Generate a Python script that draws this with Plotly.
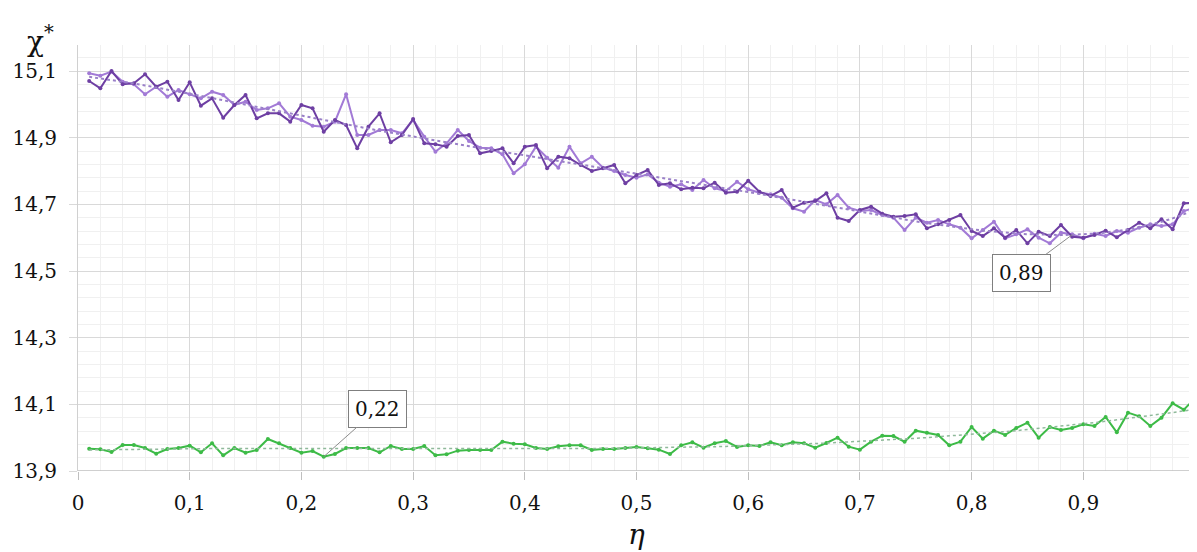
import numpy as np
import plotly.graph_objects as go

# eta values 0.01 ... 1.00
eta = [round(i / 100, 2) for i in range(1, 101)]

purple_dark = [
    15.070, 15.048, 15.100, 15.060, 15.063, 15.090, 15.053, 15.068, 15.013, 15.066,
    14.996, 15.018, 14.960, 14.998, 15.028, 14.958, 14.973, 14.973, 14.948, 14.998,
    14.988, 14.918, 14.953, 14.938, 14.868, 14.933, 14.973, 14.886, 14.908, 14.956,
    14.883, 14.880, 14.873, 14.905, 14.908, 14.853, 14.860, 14.868, 14.823, 14.873,
    14.878, 14.808, 14.843, 14.838, 14.818, 14.800, 14.808, 14.818, 14.763, 14.788,
    14.803, 14.758, 14.763, 14.745, 14.750, 14.748, 14.765, 14.735, 14.738, 14.771,
    14.738, 14.725, 14.743, 14.690, 14.705, 14.710, 14.733, 14.660, 14.650, 14.683,
    14.693, 14.672, 14.663, 14.665, 14.670, 14.628, 14.640, 14.653, 14.668, 14.620,
    14.605, 14.628, 14.600, 14.623, 14.583, 14.618, 14.605, 14.638, 14.603, 14.600,
    14.608, 14.621, 14.601, 14.623, 14.645, 14.628, 14.655, 14.625, 14.703, 14.705,
]

purple_light = [
    15.093, 15.086, 15.098, 15.068, 15.060, 15.030, 15.053, 15.023, 15.043, 15.030,
    15.018, 15.038, 15.028, 14.998, 15.008, 14.983, 14.988, 15.003, 14.963, 14.953,
    14.936, 14.933, 14.948, 15.030, 14.908, 14.908, 14.923, 14.923, 14.913, 14.953,
    14.903, 14.858, 14.883, 14.923, 14.890, 14.870, 14.868, 14.850, 14.793, 14.820,
    14.873, 14.840, 14.810, 14.873, 14.823, 14.843, 14.810, 14.800, 14.788, 14.780,
    14.790, 14.765, 14.753, 14.760, 14.743, 14.773, 14.748, 14.740, 14.768, 14.745,
    14.735, 14.730, 14.720, 14.688, 14.678, 14.713, 14.700, 14.728, 14.690, 14.680,
    14.683, 14.668, 14.660, 14.623, 14.660, 14.645, 14.653, 14.640, 14.630, 14.598,
    14.623, 14.648, 14.598, 14.610, 14.625, 14.600, 14.583, 14.615, 14.610, 14.598,
    14.612, 14.605, 14.620, 14.615, 14.630, 14.640, 14.635, 14.640, 14.680, 14.690,
]

green = [
    13.967, 13.965, 13.957, 13.978, 13.978, 13.969, 13.952, 13.966, 13.969, 13.976,
    13.956, 13.983, 13.947, 13.969, 13.955, 13.963, 13.996, 13.983, 13.969, 13.955,
    13.960, 13.943, 13.951, 13.969, 13.969, 13.969, 13.956, 13.975, 13.966, 13.966,
    13.975, 13.947, 13.950, 13.961, 13.963, 13.963, 13.963, 13.988, 13.982, 13.980,
    13.969, 13.966, 13.974, 13.977, 13.977, 13.963, 13.966, 13.966, 13.969, 13.972,
    13.968, 13.964, 13.951, 13.977, 13.986, 13.970, 13.983, 13.990, 13.972, 13.977,
    13.975, 13.986, 13.977, 13.986, 13.983, 13.970, 13.984, 14.000, 13.973, 13.964,
    13.988, 14.006, 14.005, 13.988, 14.021, 14.015, 14.008, 13.977, 13.988, 14.032,
    13.997, 14.021, 14.008, 14.029, 14.045, 14.000, 14.032, 14.023, 14.029, 14.040,
    14.035, 14.062, 14.016, 14.075, 14.064, 14.035, 14.060, 14.103, 14.084, 14.118,
]

x_tick_vals = [0, 0.1, 0.2, 0.3, 0.4, 0.5, 0.6, 0.7, 0.8, 0.9, 1]
x_tick_text = ["0", "0,1", "0,2", "0,3", "0,4", "0,5", "0,6", "0,7", "0,8", "0,9", "1"]
y_tick_vals = [13.9, 14.1, 14.3, 14.5, 14.7, 14.9, 15.1]
y_tick_text = ["13,9", "14,1", "14,3", "14,5", "14,7", "14,9", "15,1"]

label_min_green = "0,22"
label_min_purple = "0,89"

# polynomial trend lines (as in the spreadsheet trendlines)
x_arr = np.array(eta)
p_all_x = np.concatenate([x_arr, x_arr])
p_all_y = np.concatenate([purple_dark, purple_light])
p_coef = np.polyfit(p_all_x, p_all_y, 5)
p_trend = np.polyval(p_coef, x_arr)
g_coef = np.polyfit(x_arr, np.array(green), 3)
g_trend = np.polyval(g_coef, x_arr)

serif = "DejaVu Serif"

fig = go.Figure()
fig.add_trace(go.Scatter(x=eta, y=purple_light, mode="lines+markers",
                         line=dict(color="#a27ad6", width=2),
                         marker=dict(size=4, color="#a27ad6"), hoverinfo="skip"))
fig.add_trace(go.Scatter(x=eta, y=purple_dark, mode="lines+markers",
                         line=dict(color="#6e3fa3", width=2),
                         marker=dict(size=4, color="#6e3fa3"), hoverinfo="skip"))
fig.add_trace(go.Scatter(x=eta, y=p_trend, mode="lines",
                         line=dict(color="#9a80c8", width=2, dash="dot"), hoverinfo="skip"))
fig.add_trace(go.Scatter(x=eta, y=green, mode="lines+markers",
                         line=dict(color="#3dbb47", width=2),
                         marker=dict(size=4, color="#3dbb47"), hoverinfo="skip"))
fig.add_trace(go.Scatter(x=eta, y=g_trend, mode="lines",
                         line=dict(color="#8fb99a", width=1.5, dash="dot"), hoverinfo="skip"))

i22 = eta.index(0.22)
i89 = eta.index(0.89)

fig.add_annotation(x=0.22, y=green[i22], text=label_min_green, showarrow=True,
                   arrowhead=0, arrowwidth=1, arrowcolor="#8c8c8c", ax=54, ay=-48,
                   bgcolor="white", bordercolor="#7f7f7f", borderwidth=1, borderpad=6,
                   font=dict(family=serif, size=20, color="#111"))
fig.add_annotation(x=0.89, y=float(p_trend[i89]), text=label_min_purple, showarrow=True,
                   arrowhead=0, arrowwidth=1, arrowcolor="#8c8c8c", ax=-51, ay=38,
                   bgcolor="white", bordercolor="#7f7f7f", borderwidth=1, borderpad=6,
                   font=dict(family=serif, size=20, color="#111"))

fig.add_annotation(x=-0.034, y=1.0, xref="paper", yref="paper", text="χ<sup>*</sup>",
                   showarrow=False, xanchor="center", yanchor="middle", yshift=6,
                   font=dict(family=serif, size=28, color="#111"))
fig.add_annotation(x=0.5, y=-0.15, xref="paper", yref="paper", text="<i>η</i>",
                   showarrow=False, xanchor="center", yanchor="middle",
                   font=dict(family=serif, size=28, color="#111"))

# the page puts the figure 8 px in from the top-left corner; margins compensate
fig.update_layout(
    width=1197, height=552,
    margin=dict(l=70, r=10, t=37, b=89, autoexpand=False),
    paper_bgcolor="white", plot_bgcolor="white",
    showlegend=False,
    font=dict(family=serif, size=20, color="#111"),
)
fig.update_xaxes(range=[0, 1], tickvals=x_tick_vals, ticktext=x_tick_text,
                 automargin=False,
                 showgrid=True, gridcolor="#d9d9d9", gridwidth=1,
                 minor=dict(dtick=0.02, showgrid=True, gridcolor="#f0f0f0", gridwidth=1),
                 ticks="outside", ticklen=8, tickcolor="#bfbfbf", ticklabelstandoff=6,
                 showline=False, zeroline=False, tickfont=dict(family=serif, size=20))
fig.update_yaxes(range=[13.9, 15.178], tickvals=y_tick_vals, ticktext=y_tick_text,
                 automargin=False,
                 showgrid=True, gridcolor="#d9d9d9", gridwidth=1,
                 minor=dict(tick0=13.9, dtick=0.04, showgrid=True, gridcolor="#f0f0f0", gridwidth=1),
                 ticks="outside", ticklen=8, tickcolor="#d9d9d9", ticklabelstandoff=8,
                 showline=True, linecolor="#d0d0d0", zeroline=False,
                 tickfont=dict(family=serif, size=20))
fig.add_hline(y=13.9, line=dict(color="#bfbfbf", width=1.5))

fig.write_html("out.html")
